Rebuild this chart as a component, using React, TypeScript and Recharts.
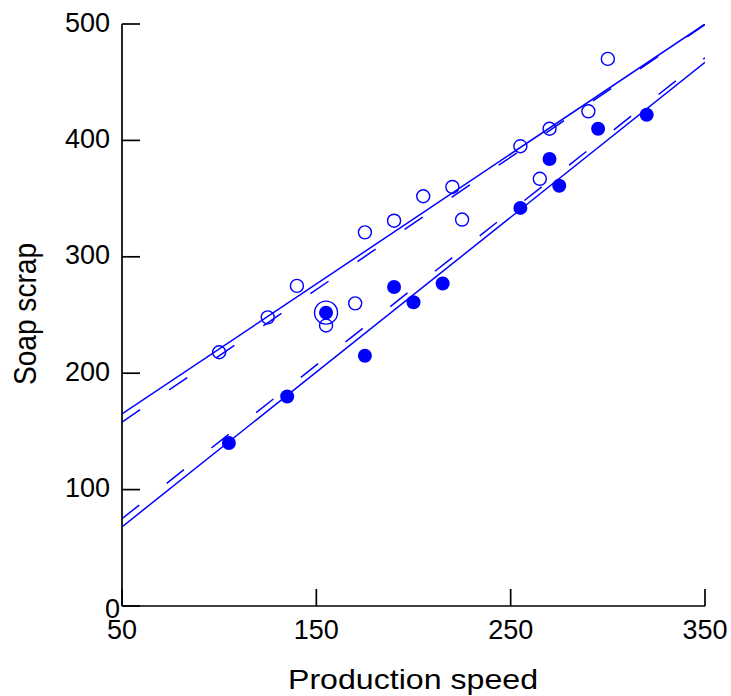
import React from 'react';
import { ComposedChart, Line, Scatter, XAxis, YAxis } from 'recharts';

// open circles
const openX = [100, 125, 140, 155, 170, 175, 190, 205, 220, 225, 255, 265, 270, 290, 300];
const openY = [218, 248, 275, 241, 260, 321, 331, 352, 360, 332, 395, 367, 410, 425, 470];

// filled circles
const filledX = [105, 135, 155, 175, 190, 200, 215, 255, 270, 275, 295, 320];
const filledY = [140, 180, 252, 215, 274, 261, 277, 342, 384, 361, 410, 422];

// ringed point
const ringX = [155];
const ringY = [252];

// fitted lines, at the ends of the x range
const fitX = [50, 350];
const upperSolid = [165, 500];
const upperDashed = [158, 499.5];
const lowerSolid = [68, 467];
const lowerDashed = [75, 471];

const xTicks = [50, 150, 250, 350];
const yTicks = [0, 100, 200, 300, 400, 500];

const zip = (xs: number[], ys: number[]) => xs.map((x, i) => ({ x, y: ys[i] }));

const openData = zip(openX, openY);
const filledData = zip(filledX, filledY);
const ringData = zip(ringX, ringY);

const BLUE = '#0000ff';
const FONT = '"Liberation Sans", Arial, Helvetica, sans-serif';

const AXIS_LEFT = 122;
const AXIS_BOTTOM = 606;

const YTick = (props: any) => {
  const { y, payload } = props;
  const zero = payload.value === 0;
  return (
    <g>
      <line x1={AXIS_LEFT} x2={AXIS_LEFT + 18} y1={y} y2={y} stroke="#000" strokeWidth={1.7} />
      <text
        x={zero ? 120 : 110}
        y={y + (zero ? 12 : 7.5)}
        textAnchor="end"
        fontFamily={FONT}
        fontSize={27}
        fill="#000"
      >
        {payload.value}
      </text>
    </g>
  );
};

const XTick = (props: any) => {
  const { x, payload } = props;
  return (
    <g>
      <line x1={x} x2={x} y1={AXIS_BOTTOM} y2={AXIS_BOTTOM - 17} stroke="#000" strokeWidth={1.7} />
      <text x={x} y={639} textAnchor="middle" fontFamily={FONT} fontSize={27} fill="#000">
        {payload.value}
      </text>
    </g>
  );
};

const OpenDot = (props: any) => (
  <circle cx={props.cx} cy={props.cy} r={6.5} fill="none" stroke={BLUE} strokeWidth={1.4} />
);
const FilledDot = (props: any) => (
  <circle cx={props.cx} cy={props.cy} r={7} fill={BLUE} stroke="none" />
);
const RingDot = (props: any) => (
  <circle cx={props.cx} cy={props.cy} r={11.5} fill="none" stroke={BLUE} strokeWidth={1.4} />
);

const App: React.FC = () => {
  return (
    <div style={{ position: 'absolute', left: 0, top: 0, width: 731, height: 696, background: '#fff' }}>
      <ComposedChart width={731} height={696} margin={{ top: 24, right: 26, bottom: 0, left: 0 }}>
        <XAxis
          type="number"
          dataKey="x"
          domain={[50, 350]}
          ticks={xTicks}
          height={90}
          allowDataOverflow
          tickLine={false}
          axisLine={{ stroke: '#000', strokeWidth: 1.7 }}
          tick={<XTick />}
          interval={0}
        />
        <YAxis
          type="number"
          dataKey="y"
          domain={[0, 500]}
          ticks={yTicks}
          width={122}
          allowDataOverflow
          tickLine={false}
          axisLine={{ stroke: '#000', strokeWidth: 1.7 }}
          tick={<YTick />}
          interval={0}
        />
        <Line data={zip(fitX, upperSolid)} dataKey="y" stroke={BLUE} strokeWidth={1.5} dot={false} activeDot={false} isAnimationActive={false} />
        <Line data={zip(fitX, upperDashed)} dataKey="y" stroke={BLUE} strokeWidth={1.5} strokeDasharray="22 35" dot={false} activeDot={false} isAnimationActive={false} />
        <Line data={zip(fitX, lowerSolid)} dataKey="y" stroke={BLUE} strokeWidth={1.5} dot={false} activeDot={false} isAnimationActive={false} />
        <Line data={zip(fitX, lowerDashed)} dataKey="y" stroke={BLUE} strokeWidth={1.5} strokeDasharray="22 35" dot={false} activeDot={false} isAnimationActive={false} />
        <Scatter data={openData} dataKey="y" shape={<OpenDot />} isAnimationActive={false} />
        <Scatter data={filledData} dataKey="y" shape={<FilledDot />} isAnimationActive={false} />
        <Scatter data={ringData} dataKey="y" shape={<RingDot />} isAnimationActive={false} />
        <text x={413} y={689} textAnchor="middle" fontFamily={FONT} fontSize={28} fill="#000" textLength={250} lengthAdjust="spacingAndGlyphs">
          Production speed
        </text>
        <text
          x={0}
          y={0}
          transform="translate(36, 314) rotate(-90)"
          textAnchor="middle"
          fontFamily={FONT}
          fontSize={31}
          fill="#000"
          textLength={142}
          lengthAdjust="spacingAndGlyphs"
        >
          Soap scrap
        </text>
      </ComposedChart>
    </div>
  );
};

export default App;
